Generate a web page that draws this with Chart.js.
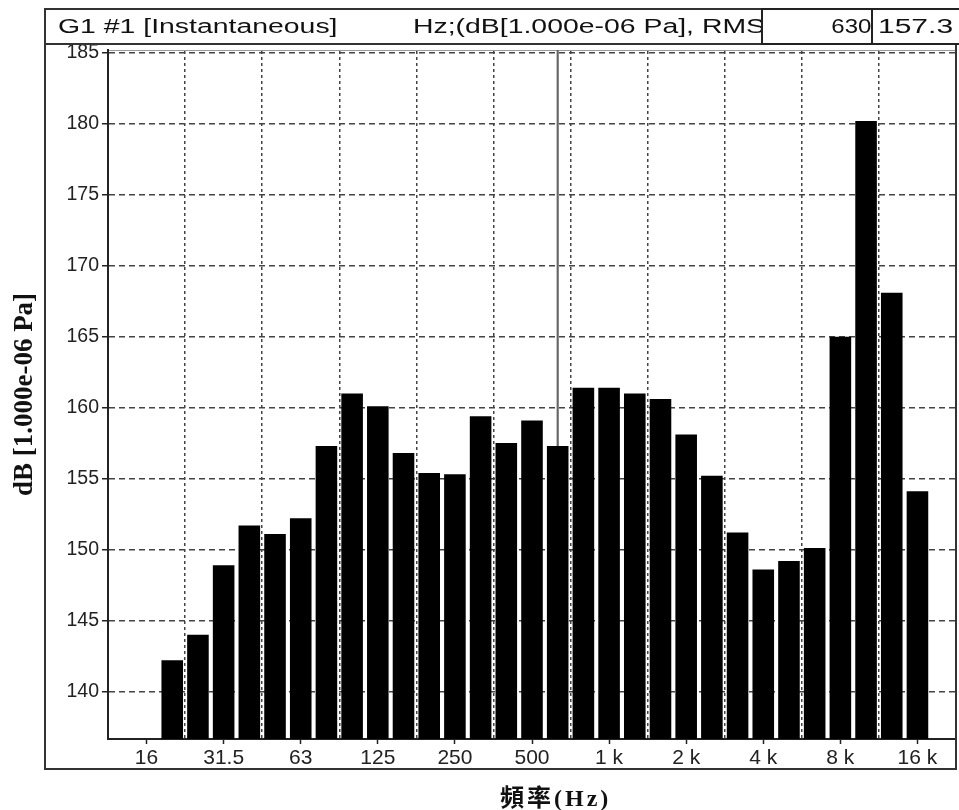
<!DOCTYPE html>
<html lang="zh-Hant">
<head>
  <meta charset="UTF-8"/>
  <title>1/3 Octave Spectrum</title>
  <script src="https://cdn.jsdelivr.net/npm/chart.js@4.4.0/dist/chart.umd.min.js"></script>
  <style>
    html, body { margin: 0; padding: 0; background: #fff; overflow: hidden; }
    body { width: 959px; height: 810px; position: relative; font-family: "Liberation Sans", Arial, sans-serif; color: #111; }
    #spectrum { position: absolute; left: 0; top: 0; }
    .frame { position: absolute; left: 44px; top: 8px; width: 913px; height: 762px; border: 2px solid #333; box-sizing: border-box; pointer-events: none; }
    .head-line { position: absolute; left: 44px; top: 43px; width: 913px; height: 2px; background: #333; }
    .head-text { position: absolute; top: 10px; line-height: 33px; font-size: 20px; white-space: nowrap; transform: scaleX(1.42); transform-origin: left center; }
    .readout { position: absolute; top: 8px; height: 37px; border: 2px solid #222; box-sizing: border-box; background: #fff; font-size: 20px; line-height: 33px; white-space: nowrap; overflow: hidden; }
    .readout span { display: inline-block; }
    #bandBox { left: 761px; width: 112px; text-align: right; }
    #bandBox span { transform: scaleX(1.2); transform-origin: right center; }
    #valueBox { left: 871px; width: 92px; padding-left: 5px; }
    #valueBox span { transform: scaleX(1.5); transform-origin: left center; }
    .x-title { position: absolute; left: 500px; top: 784px; font-family: "Liberation Serif", "Noto Sans CJK TC", serif; font-weight: bold; font-size: 24px; line-height: 28px; letter-spacing: 3px; color: #111; }
  </style>
</head>
<body>
  <canvas id="spectrum" width="959" height="810"></canvas>

  <!-- analyser frame + header strip -->
  <div class="frame"></div>
  <div class="head-line"></div>
  <div class="head-text" style="left:58px;">G1 #1 [Instantaneous]</div>
  <div class="head-text" style="left:413px;">Hz;(dB[1.000e-06 Pa], RMS</div>
  <div class="readout" id="bandBox"><span></span></div>
  <div class="readout" id="valueBox"><span></span></div>
  <div class="x-title">頻率(Hz)</div>

  <script>
    // 1/3 octave band centres (Hz)
    const bands = ['12.5', '16', '20', '25', '31.5', '40', '50', '63', '80', '100',
                   '125', '160', '200', '250', '315', '400', '500', '630', '800', '1 k',
                   '1.25 k', '1.6 k', '2 k', '2.5 k', '3.15 k', '4 k', '5 k', '6.3 k', '8 k', '10 k',
                   '12.5 k', '16 k', '20 k'];
    // only the octave centres get a label on the axis
    const octaveLabels = ['16', '31.5', '63', '125', '250', '500', '1 k', '2 k', '4 k', '8 k', '16 k'];
    // band levels, dB re 1e-6 Pa
    const levels = [null, null, 142.2, 144.0, 148.9, 151.7, 151.1, 152.2, 157.3, 161.0,
                    160.1, 156.8, 155.4, 155.3, 159.4, 157.5, 159.1, 157.3, 161.4, 161.4,
                    161.0, 160.6, 158.1, 155.2, 151.2, 148.6, 149.2, 150.1, 165.0, 180.2,
                    168.1, 154.1, null];
    const cursorBand = '630';
    const cursorReading = '157.3';
    const yMin = 136.65, yMax = 185.2, yStep = 5;

    document.querySelector('#bandBox span').textContent = cursorBand;
    document.querySelector('#valueBox span').textContent = cursorReading;

    const isOctave = i => octaveLabels.includes(bands[i]);
    const clear = 'rgba(0,0,0,0)';

    new Chart(document.getElementById('spectrum'), {
      type: 'bar',
      data: {
        labels: bands,
        datasets: [
          {
            label: 'Level',
            data: levels,
            backgroundColor: '#000',
            borderWidth: 0,
            barPercentage: 0.84,
            categoryPercentage: 1,
            grouped: false,
            order: 1
          },
          {
            // cursor line at the selected band
            label: 'Cursor',
            data: bands.map(b => b === cursorBand ? [yMin, yMax] : null),
            backgroundColor: '#666',
            barThickness: 1.5,
            grouped: false,
            order: 2
          }
        ]
      },
      options: {
        responsive: false,
        animation: false,
        layout: { padding: { top: 50, right: 3, bottom: 0, left: 0 } },
        plugins: { legend: { display: false }, tooltip: { enabled: false } },
        scales: {
          x: {
            type: 'category',
            position: 'bottom',
            offset: true,
            grid: {
              offset: false,
              drawOnChartArea: false,
              tickLength: 5,
              tickWidth: 1.5,
              tickColor: c => isOctave(c.index) ? '#222' : clear
            },
            border: { display: true, color: '#222', width: 2 },
            ticks: {
              autoSkip: false,
              maxRotation: 0,
              padding: 2,
              color: '#222',
              font: { family: '"Liberation Sans", Arial, sans-serif', size: 21 },
              callback: (v, i) => isOctave(i) ? bands[i] : ''
            },
            afterFit: s => { s.height = 71; }
          },
          // octave-edge grid lines (between bands)
          x2: {
            type: 'category',
            position: 'top',
            labels: bands,
            offset: true,
            grid: {
              offset: true,
              drawTicks: false,
              lineWidth: 1.5,
              color: c => (c.index > 0 && isOctave(c.index - 2)) ? '#444' : clear
            },
            border: { display: true, color: '#999', width: 1, dash: [3, 3] },
            ticks: { display: false },
            afterFit: s => { s.height = 0; }
          },
          y: {
            min: yMin,
            max: yMax,
            ticks: {
              stepSize: yStep,
              includeBounds: false,
              padding: 3,
              color: '#222',
              font: { family: '"Liberation Sans", Arial, sans-serif', size: 19.5 }
            },
            grid: { color: '#444', lineWidth: 1.5, tickLength: 6, tickColor: '#222', tickWidth: 1.5 },
            border: { display: true, color: '#222', width: 2, dash: [6, 4] },
            title: {
              display: true,
              text: 'dB [1.000e-06 Pa]',
              color: '#111',
              font: { family: '"Liberation Serif", serif', size: 27, weight: 'bold' },
              padding: { top: 9, bottom: 0 }
            },
            afterFit: s => { s.width = 108; }
          }
        }
      }
    });
  </script>
</body>
</html>
